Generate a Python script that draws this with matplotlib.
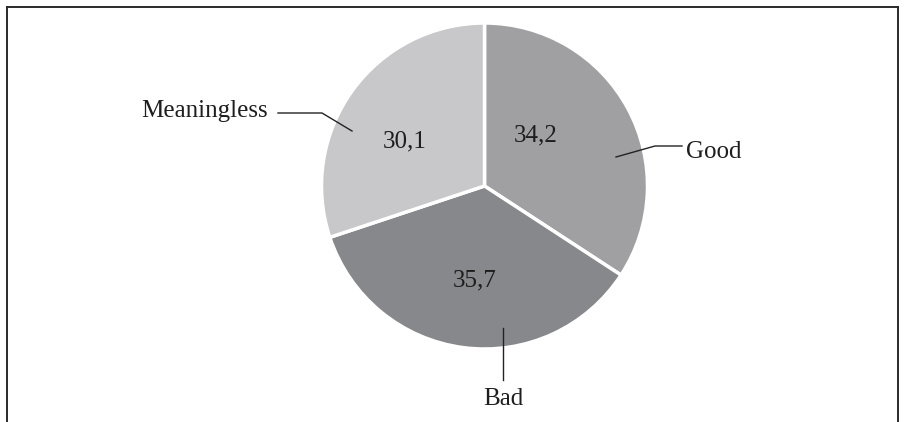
import matplotlib
matplotlib.use("Agg")
import matplotlib.pyplot as plt
import numpy as np
from matplotlib.lines import Line2D

categories = ["Good", "Bad", "Meaningless"]
values = [34.2, 35.7, 30.1]
value_labels = ["34,2", "35,7", "30,1"]
colors = ["#a0a0a3", "#87888b", "#c8c8ca"]

W, H = 907, 422
fig = plt.figure(figsize=(W / 100, H / 100), dpi=100)
ax = fig.add_axes([0, 0, 1, 1])

cx, cy, R = 484.5, H - 186, 163
wedges, _ = ax.pie(values, colors=colors, startangle=90, counterclock=False,
                   center=(cx, cy), radius=R, frame=True,
                   wedgeprops=dict(edgecolor="white", linewidth=2.5))
ax.set_xlim(0, W)
ax.set_ylim(0, H)
ax.set_aspect("equal")
ax.axis("off")

font = dict(family=["Liberation Serif", "DejaVu Serif"], fontsize=18, color="#1e1e1e")

# value labels (offsets from pie centre, in pixels)
val_offsets = {"Good": (51, 51), "Bad": (-10, -94), "Meaningless": (-80, 45)}
for cat, lab in zip(categories, value_labels):
    dx, dy = val_offsets[cat]
    ax.text(cx + dx, cy + dy, lab, ha="center", va="center", **font)

lc = "#222222"
# Meaningless leader
ax.plot([278, 322, 352], [H - 113, H - 113, H - 131], color=lc, lw=1.0)
ax.text(268, H - 111, "Meaningless", ha="right", va="center", **font)
# Good leader
ax.plot([616, 655, 682], [H - 157, H - 146, H - 146], color=lc, lw=1.0)
ax.text(686, H - 152, "Good", ha="left", va="center", **font)
# Bad leader
ax.plot([503, 503], [H - 328, H - 380], color=lc, lw=1.0)
ax.text(503, H - 399, "Bad", ha="center", va="center", **font)

# frame (top, left, right)
fc = "#2a2a2a"
kw = dict(color=fc, lw=1.4, transform=fig.transFigure)
fig.add_artist(Line2D([7 / W, 7 / W], [0, 1 - 7 / H], **kw))
fig.add_artist(Line2D([898 / W, 898 / W], [0, 1 - 7 / H], **kw))
fig.add_artist(Line2D([7 / W, 898 / W], [1 - 7 / H, 1 - 7 / H], **kw))

fig.savefig("out.png", dpi=100)
